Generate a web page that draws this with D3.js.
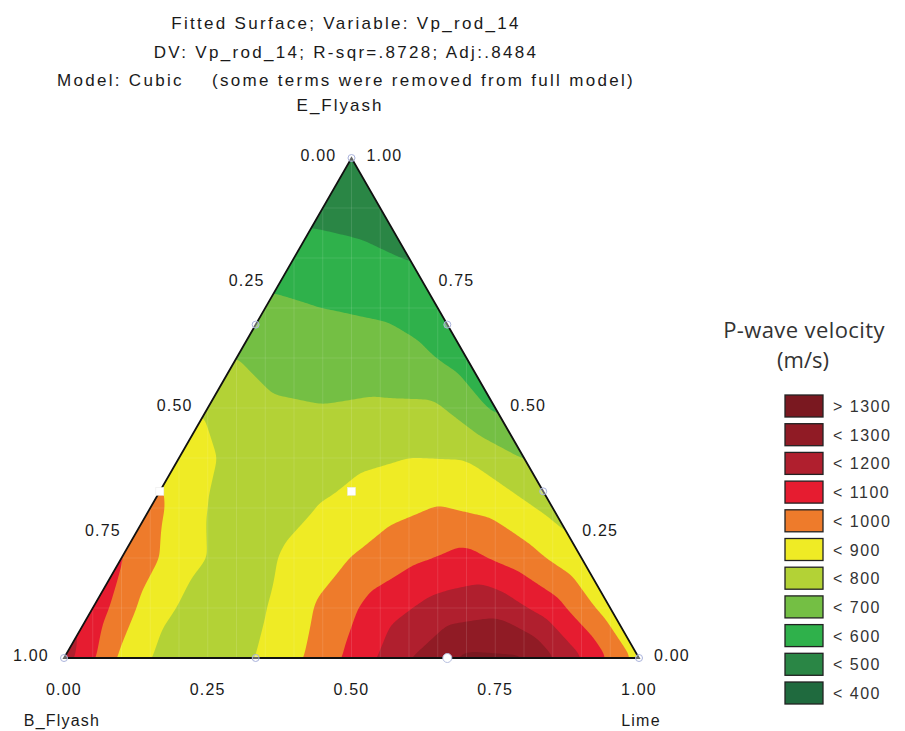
<!DOCTYPE html>
<html>
<head>
<meta charset="utf-8">
<script src="https://cdn.jsdelivr.net/npm/d3@7"></script>
<style>
  body { margin: 0; background: #fff; }
  svg text { font-family: "Liberation Sans", Arial, sans-serif; }
</style>
</head>
<body>
<svg id="chart" width="905" height="731"></svg>
<script>
// ---- data ----
const titleLines = [
  "Fitted Surface; Variable: Vp_rod_14",
  "DV: Vp_rod_14; R-sqr=.8728; Adj:.8484",
  "Model: Cubic    (some terms were removed from full model)"
];
const levels = [400, 500, 600, 700, 800, 900, 1000, 1100, 1200, 1300];
// band colours from lowest (<400) to highest (>1300)
const bandColors = ["#1f6a3e", "#2a8645", "#2fb14b", "#74bf44", "#b3d236", "#efeb25",
                    "#ee7b2b", "#e61c30", "#b01f2e", "#901b25", "#7a1820"];
const legendLabels = ["> 1300", "< 1300", "< 1200", "< 1100", "< 1000", "< 900",
                      "< 800", "< 700", "< 600", "< 500", "< 400"];
const tickValues = [0, 0.25, 0.5, 0.75, 1];

// Vp on a 0.1 simplex lattice: one row per E_Flyash level, entries by Lime = 0, 0.1, ...
const vpE00 = [1150, 880, 730, 765, 875, 1025, 1195, 1320, 1310, 1105, 868];
const vpE01 = [1060, 850, 740, 795, 920, 1050, 1140, 1170, 1045, 850];
const vpE02 = [1010, 843, 755, 818, 902, 977, 1029, 945, 825];
const vpE03 = [935, 797, 760, 805, 860, 905, 870, 770];
const vpE04 = [860, 770, 760, 775, 800, 795, 695];
const vpE05 = [790, 718, 704, 715, 712, 582];
const vpE06 = [700, 652, 652, 640, 553];
const vpE07 = [623, 600, 585, 524];
const vpE08 = [546, 529, 495];
const vpE09 = [470, 450];
const vpE10 = [430];
const lattice = [vpE00, vpE01, vpE02, vpE03, vpE04, vpE05, vpE06, vpE07, vpE08, vpE09, vpE10];

// design points [Lime, E_Flyash, marker]
const designPoints = [
  [0, 0, "c"], [1, 0, "c"], [0, 1, "c"],
  [1 / 3, 0, "c"], [2 / 3, 0, "w"],
  [0, 1 / 3, "s"], [0, 2 / 3, "c"],
  [2 / 3, 1 / 3, "c"], [1 / 3, 2 / 3, "c"],
  [1 / 3, 1 / 3, "s"]
];

// ---- layout ----
const svg = d3.select("#chart");
const xScale = d3.scaleLinear().domain([0, 1]).range([64, 639]);
const yScale = d3.scaleLinear().domain([0, 1]).range([658, 158]);
const project = (L, E) => [xScale(L + E / 2), yScale(E)];

// linear interpolation inside the lattice triangles
function surface(L, E) {
  const n = lattice.length - 1;
  const i = L * n, j = E * n;
  const jj = Math.max(0, Math.min(Math.floor(j), n - 1));
  const ii = Math.max(0, Math.min(Math.floor(i), n - 1 - jj));
  const fi = i - ii, fj = j - jj;
  const v = (a, b) => lattice[b][a];
  if (fi + fj <= 1 || ii + jj + 2 > n) {
    return v(ii, jj) * (1 - fi - fj) + v(ii + 1, jj) * fi + v(ii, jj + 1) * fj;
  }
  return v(ii + 1, jj + 1) * (fi + fj - 1) + v(ii + 1, jj) * (1 - fj) + v(ii, jj + 1) * (1 - fi);
}

// raster of the surface over the triangle's box
const step = 2, gx0 = 54, gy0 = 148;
const nx = Math.ceil((650 - gx0) / step), ny = Math.ceil((668 - gy0) / step);
const grid = new Float64Array(nx * ny);
for (let r = 0; r < ny; r++) {
  for (let c = 0; c < nx; c++) {
    const px = gx0 + (c + 0.5) * step, py = gy0 + (r + 0.5) * step;
    let E = yScale.invert(py);
    let L = xScale.invert(px) - E / 2;
    E = Math.max(0, Math.min(1, E));
    L = Math.max(0, L);
    if (L + E > 1) { const s = L + E; L /= s; E /= s; }
    const val = surface(L, E);
    grid[r * nx + c] = isFinite(val) ? val : 430;
  }
}
if (d3.blur2) d3.blur2({data: grid, width: nx, height: ny}, 2);

const contours = d3.contours().size([nx, ny]).thresholds(levels)(Array.from(grid));
const gridPath = d3.geoPath(d3.geoIdentity().scale(step).translate([gx0, gy0]));

const corners = [project(0, 0), project(1, 0), project(0, 1)];

svg.append("clipPath").attr("id", "tri")
  .append("polygon").attr("points", corners.map(p => p.join(",")).join(" "));

const plot = svg.append("g").attr("clip-path", "url(#tri)");
plot.append("polygon")
  .attr("points", corners.map(p => p.join(",")).join(" "))
  .attr("fill", bandColors[0]);

plot.selectAll("path.band")
  .data(contours)
  .join("path")
  .attr("class", "band")
  .attr("d", gridPath)
  .attr("fill", (d, k) => bandColors[k + 1]);

// faint seams seen in the original rendering
plot.selectAll("line.vseam")
  .data(d3.range(1, 20).map(k => k / 20))
  .join("line")
  .attr("x1", d => xScale(d)).attr("x2", d => xScale(d))
  .attr("y1", yScale(1)).attr("y2", yScale(0))
  .attr("stroke", "#fff").attr("stroke-opacity", 0.12).attr("stroke-width", 1);
plot.selectAll("line.hseam")
  .data(d3.range(1, 10).map(k => k / 10))
  .join("line")
  .attr("x1", xScale(0)).attr("x2", xScale(1))
  .attr("y1", d => yScale(d)).attr("y2", d => yScale(d))
  .attr("stroke", "#fff").attr("stroke-opacity", 0.1).attr("stroke-width", 1);

svg.append("polygon")
  .attr("points", corners.map(p => p.join(",")).join(" "))
  .attr("fill", "none")
  .attr("stroke", "#111")
  .attr("stroke-width", 1.8)
  .attr("stroke-linejoin", "miter");

// design points
designPoints.forEach(([L, E, m]) => {
  const [x, y] = project(L, E);
  if (m === "s") {
    svg.append("rect").attr("x", x - 4).attr("y", y - 4).attr("width", 8).attr("height", 8)
      .attr("fill", "#fff").attr("stroke", "#e8e8e8").attr("stroke-width", 0.5);
  } else if (m === "w") {
    svg.append("circle").attr("cx", x).attr("cy", y).attr("r", 4.5)
      .attr("fill", "#fff").attr("stroke", "#b8c0e0").attr("stroke-width", 1);
  } else {
    svg.append("circle").attr("cx", x).attr("cy", y).attr("r", 3.5)
      .attr("fill", "#fff").attr("fill-opacity", 0.35)
      .attr("stroke", "#aab3dc").attr("stroke-width", 1);
  }
});

// ---- axis labels ----
const fmt = d3.format(".2f");
const tickStyle = sel => sel
  .attr("font-size", 16).attr("fill", "#1a1a1a")
  .style("letter-spacing", "1.2px")
  .attr("text-anchor", "middle");

// bottom: Lime
svg.selectAll("text.tb").data(tickValues).join("text")
  .attr("class", "tb").call(tickStyle)
  .attr("x", d => xScale(d)).attr("y", 695)
  .text(d => fmt(d));
// left side: B_Flyash (B = 1 - E on the left edge)
svg.selectAll("text.tl").data(tickValues).join("text")
  .attr("class", "tl").call(tickStyle)
  .attr("x", d => project(0, 1 - d)[0] - 33)
  .attr("y", d => project(0, 1 - d)[1] + 3)
  .text(d => fmt(d));
// right side: E_Flyash
svg.selectAll("text.tr").data(tickValues).join("text")
  .attr("class", "tr").call(tickStyle)
  .attr("x", d => project(1 - d, d)[0] + 33)
  .attr("y", d => project(1 - d, d)[1] + 3)
  .text(d => fmt(d));

svg.append("text").call(tickStyle).attr("x", 62).attr("y", 726).text("B_Flyash");
svg.append("text").call(tickStyle).attr("x", 641).attr("y", 726).text("Lime");
svg.append("text").call(tickStyle).style("letter-spacing", "2px")
  .attr("font-size", 17).attr("x", 340).attr("y", 111).text("E_Flyash");

// titles
svg.selectAll("text.title").data(titleLines).join("text")
  .attr("class", "title").call(tickStyle)
  .attr("font-size", 17)
  .style("letter-spacing", "2.3px")
  .style("white-space", "pre")
  .attr("x", 346)
  .attr("y", (d, k) => 29 + k * 28.5)
  .text(d => d);

// ---- legend ----
svg.append("text")
  .attr("x", 804).attr("y", 338)
  .attr("text-anchor", "middle")
  .style("font-family", "'Open Sans', sans-serif")
  .style("letter-spacing", "0.4px")
  .attr("font-size", 22).attr("fill", "#333")
  .text("P-wave velocity");
svg.append("text")
  .attr("x", 803).attr("y", 368)
  .attr("text-anchor", "middle")
  .style("font-family", "'Open Sans', sans-serif")
  .attr("font-size", 22).attr("fill", "#333")
  .text("(m/s)");

const legendColors = bandColors.slice().reverse();
const legendY = d3.scaleBand().domain(legendLabels).range([395, 395 + 28.7 * legendLabels.length]);
const legend = svg.append("g").selectAll("g").data(legendLabels).join("g")
  .attr("transform", d => `translate(0,${legendY(d)})`);
legend.append("rect")
  .attr("x", 785).attr("width", 38).attr("height", 22)
  .attr("fill", (d, k) => legendColors[k])
  .attr("stroke", "#222").attr("stroke-width", 1.3);
legend.append("text")
  .attr("x", 833).attr("y", 17)
  .attr("font-size", 16).attr("fill", "#333")
  .style("letter-spacing", "1.5px")
  .text(d => d);
</script>
</body>
</html>
